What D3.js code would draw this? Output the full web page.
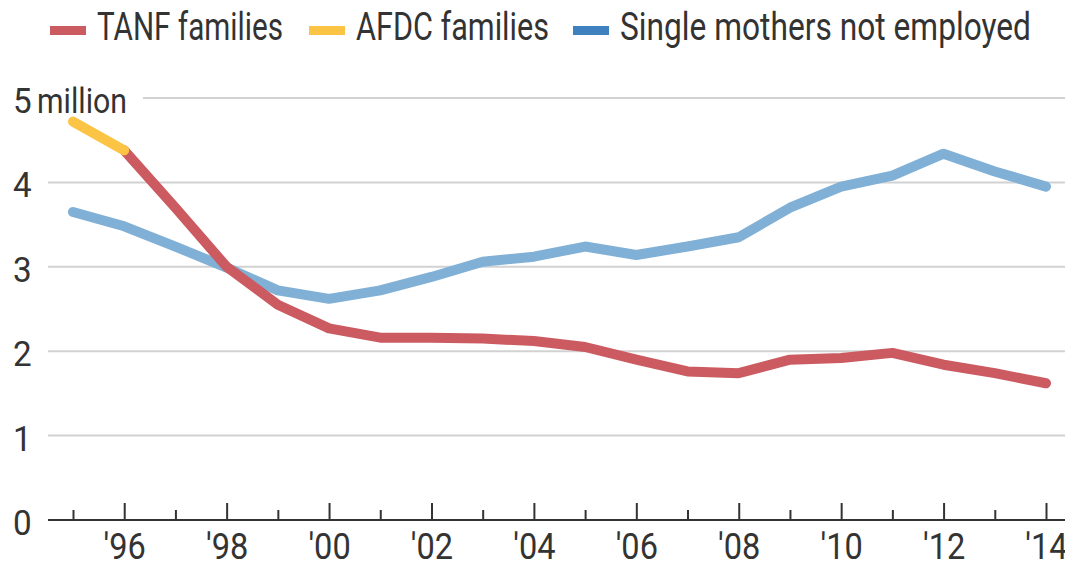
<!DOCTYPE html>
<html>
<head>
<meta charset="utf-8">
<script src="https://cdn.jsdelivr.net/npm/d3@7"></script>
<style>
  body { margin: 0; background: #fff; }
  svg { display: block; font-family: Roboto, "Noto Sans", sans-serif; }
</style>
</head>
<body>
<svg width="1065" height="562"></svg>
<script>
// data, millions of families
const years = d3.range(1995, 2015);
const afdcYears = [1995, 1996];
const afdcValues = [4.72, 4.38];
const tanfYears = d3.range(1996, 2015);
const tanfValues = [4.38, 3.70, 3.00, 2.55, 2.27, 2.16, 2.16, 2.15, 2.12, 2.05,
                    1.90, 1.76, 1.74, 1.90, 1.92, 1.98, 1.84, 1.74, 1.62];
const mothersValues = [3.65, 3.48, 3.24, 2.99, 2.72, 2.62, 2.72, 2.88, 3.06, 3.12,
                       3.24, 3.14, 3.24, 3.35, 3.70, 3.95, 4.08, 4.34, 4.13, 3.95];
const yTicks = [0, 1, 2, 3, 4, 5];
const majorYears = years.filter(d => d % 2 === 0);
const minorYears = years.filter(d => d % 2 === 1);
const legendItems = [
    { label: "TANF families", color: "#c95b61", x: 50, len: 186 },
    { label: "AFDC families", color: "#fbc445", x: 309, len: 193 },
    { label: "Single mothers not employed", color: "#3f80be", x: 573, len: 411 }
];

const svg = d3.select("svg");
const textColor = "#333";

const x = d3.scaleLinear().domain([1995, 2014]).range([73, 1046]);
const y = d3.scaleLinear().domain([0, 5]).range([520, 98]);

// grid lines
svg.append("g")
    .selectAll("line")
    .data(yTicks.filter(d => d > 0))
    .join("line")
    .attr("x1", d => d === 5 ? 143 : 48)
    .attr("x2", 1065)
    .attr("y1", d => y(d))
    .attr("y2", d => y(d))
    .attr("stroke", "#d2d2d2")
    .attr("stroke-width", 2);

// y labels
const yLab = svg.append("g");
yTicks.forEach(function(d) {
    yLab.append("text")
        .attr("transform", `translate(13,${y(d) + 15}) scale(0.95,1)`)
        .attr("font-size", 35)
        .attr("fill", textColor)
        .text(d);
});
yLab.append("text")
    .attr("x", 37)
    .attr("y", y(5) + 15)
    .attr("font-size", 35)
    .attr("fill", textColor)
    .attr("textLength", 90)
    .attr("lengthAdjust", "spacingAndGlyphs")
    .text("million");

// x axis
const majorAxis = d3.axisBottom(x).tickValues(majorYears).tickSize(-17)
    .tickFormat(d => "'" + String(d).slice(2));
const minorAxis = d3.axisBottom(x).tickValues(minorYears).tickSize(-10).tickFormat("");

const gMajor = svg.append("g").attr("transform", "translate(0,520)").call(majorAxis);
const gMinor = svg.append("g").attr("transform", "translate(0,520)").call(minorAxis);
[gMajor, gMinor].forEach(function(g) {
    g.select(".domain").remove();
    g.selectAll(".tick line").attr("stroke", textColor).attr("stroke-width", 2);
});
gMajor.selectAll(".tick text")
    .attr("y", 39)
    .attr("dy", null)
    .attr("font-size", 37)
    .attr("font-family", "Roboto, sans-serif")
    .attr("fill", textColor)
    .attr("transform", "scale(0.88,1)");

svg.append("line")
    .attr("x1", 48).attr("x2", 1065)
    .attr("y1", 520).attr("y2", 520)
    .attr("stroke", textColor)
    .attr("stroke-width", 2);

// lines
function drawLine(xs, vs, color) {
    const line = d3.line().x((d, i) => x(xs[i])).y(d => y(d));
    svg.append("path")
        .datum(vs)
        .attr("d", line)
        .attr("fill", "none")
        .attr("stroke", color)
        .attr("stroke-width", 10)
        .attr("stroke-linecap", "round")
        .attr("stroke-linejoin", "round");
}
drawLine(years, mothersValues, "#80b0d6");
drawLine(tanfYears, tanfValues, "#cb5b61");
drawLine(afdcYears, afdcValues, "#fbc445");

// legend
const legend = svg.append("g");
legendItems.forEach(function(d) {
    legend.append("rect")
        .attr("x", d.x).attr("y", 26)
        .attr("width", 36).attr("height", 9)
        .attr("fill", d.color);
    legend.append("text")
        .attr("x", d.x + 47)
        .attr("y", 40)
        .attr("font-size", 39)
        .attr("fill", textColor)
        .attr("textLength", d.len)
        .attr("lengthAdjust", "spacingAndGlyphs")
        .text(d.label);
});
</script>
</body>
</html>
